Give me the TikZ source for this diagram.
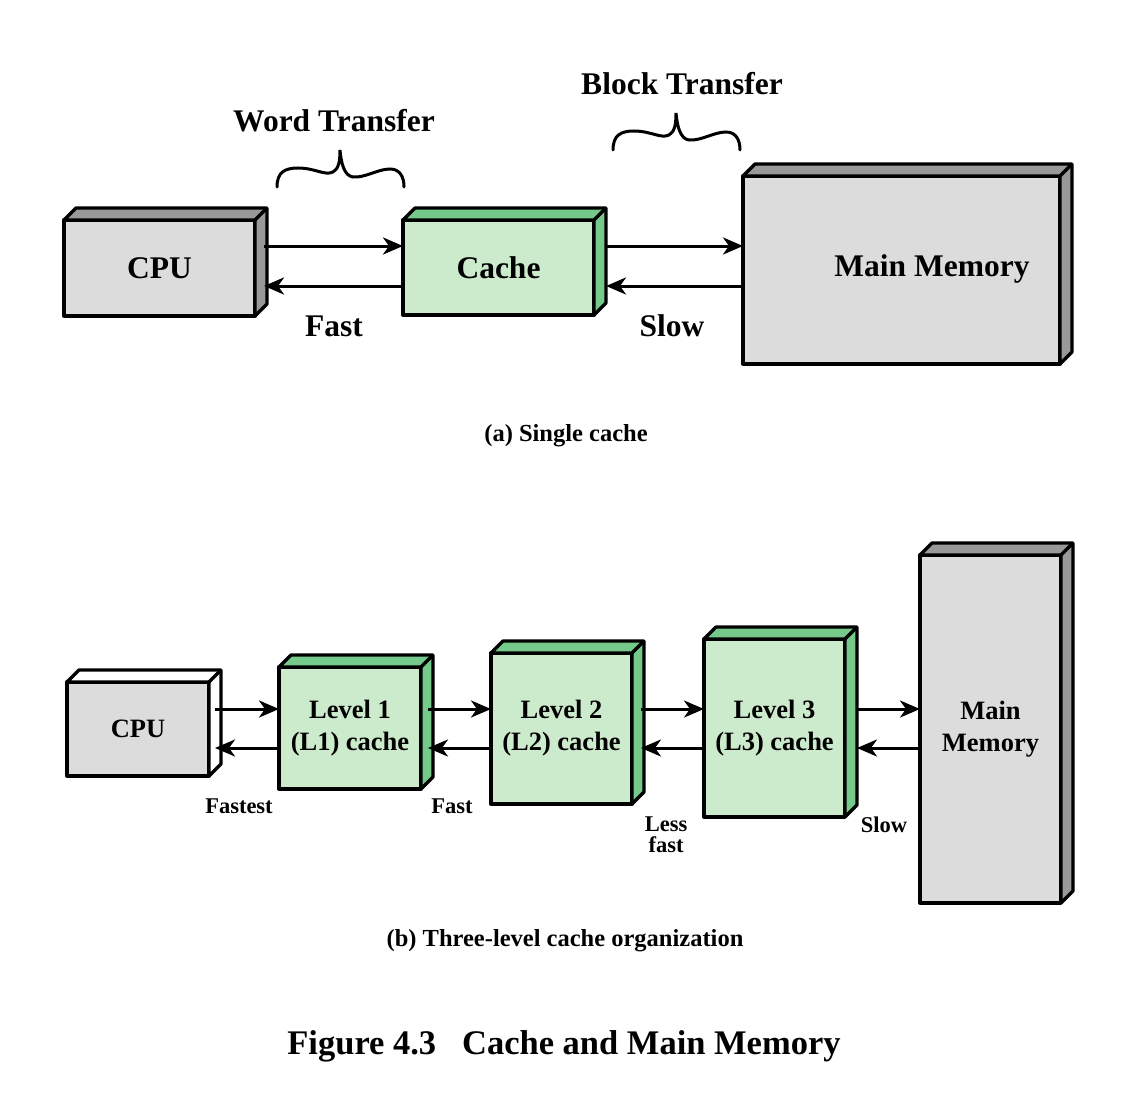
\documentclass[tikz,border=0pt]{standalone}
\usepackage{fontspec}
\setmainfont{Liberation Serif}
\usetikzlibrary{arrows.meta,calc}

\definecolor{greyfront}{RGB}{220,220,220}
\definecolor{greyside}{RGB}{153,153,153}
\definecolor{greenfront}{RGB}{204,235,204}
\definecolor{greenside}{RGB}{117,201,138}

\tikzset{
  boxline/.style={line width=3.3pt, line join=round},
  greybox/.style={boxline, draw, fill=greyfront, inner sep=0pt, outer sep=0pt},
  greenbox/.style={boxline, draw, fill=greenfront, inner sep=0pt, outer sep=0pt},
  bigtext/.style={font=\fontsize{31.5}{34}\selectfont\bfseries},
  midtext/.style={font=\fontsize{26.5}{32}\selectfont\bfseries, align=center},
  smalltext/.style={font=\fontsize{22.5}{21}\selectfont\bfseries, align=center},
  captext/.style={font=\fontsize{24.5}{28}\selectfont\bfseries},
  arr/.style={line width=3pt, -{Stealth[length=20pt,width=17pt,inset=6pt]}},
  curlyline/.style={line width=3pt, line cap=round}
}

% top and side faces of a box
\newcommand{\depthfaces}[2]{%
  \draw[boxline, fill=#2] (#1.north west) -- ([xshift=\Depth pt,yshift=\Depth pt]#1.north west)
    -- ([xshift=\Depth pt,yshift=\Depth pt]#1.north east)
    -- ([xshift=\Depth pt,yshift=\Depth pt]#1.south east)
    -- (#1.south east) -- (#1.north east) -- cycle;
  \draw[boxline] (#1.north east) -- ([xshift=\Depth pt,yshift=\Depth pt]#1.north east);
}

\begin{document}
\begin{tikzpicture}[x=1pt,y=-1pt]
  \useasboundingbox (0,0) rectangle (1134,1113);

  \def\Depth{12}

  % (a) Single cache
  \node[greybox, bigtext, minimum width=191pt, minimum height=96pt] (cpu) at (159.5,268) {CPU};
  \depthfaces{cpu}{greyside}
  \node[greenbox, bigtext, minimum width=191pt, minimum height=95pt] (cache) at (498.5,267.5) {Cache};
  \depthfaces{cache}{greenside}
  \node[greybox, minimum width=317pt, minimum height=188pt] (mem) at (901.5,270) {};
  \depthfaces{mem}{greyside}
  \node[bigtext] (memtext) at (932,269) {Main Memory};

  \coordinate (topup) at (0,246);
  \coordinate (topdown) at (0,286);

  \draw[arr] ($(cpu.east |- topup)+(9,0)$) -- (cache.west |- topup);
  \draw[arr] (cache.west |- topdown) -- ($(cpu.east |- topdown)+(9,0)$);
  \draw[arr] ($(cache.east |- topup)+(12,0)$) -- (mem.west |- topup);
  \draw[arr] (mem.west |- topdown) -- ($(cache.east |- topdown)+(12,0)$);

  \node[bigtext] (fast) at (334,326) {Fast};
  \node[bigtext] (slow) at (672,326) {Slow};
  \node[bigtext] (word) at (334,121) {Word Transfer};
  \node[bigtext] (block) at (682,84) {Block Transfer};

  % curly braces
  \foreach \bx/\by in {0/0, 336/-37}{
    \draw[curlyline, shift={(\bx,\by)}]
      (277,187) .. controls (277,172) and (285,168) .. (298,168)
      .. controls (315,168) and (325,176) .. (333,172)
      .. controls (339,169) and (340,160) .. (340,150)
      .. controls (341,162) and (344,176) .. (353,177)
      .. controls (365,178) and (378,169) .. (390,169)
      .. controls (400,169) and (404,177) .. (404,187);
  }

  \node[captext] (capa) at (566,436) {(a) Single cache};

  % (b) Three-level cache organization
  \node[greybox, midtext, minimum width=142pt, minimum height=94pt] (cpub) at (138,729) {CPU};
  \depthfaces{cpub}{white}
  \node[greenbox, midtext, minimum width=142pt, minimum height=122pt] (lone) at (350,728) {Level 1\\(L1) cache};
  \depthfaces{lone}{greenside}
  \node[greenbox, midtext, minimum width=141pt, minimum height=151pt] (ltwo) at (561.5,728.5) {Level 2\\(L2) cache};
  \depthfaces{ltwo}{greenside}
  \node[greenbox, midtext, minimum width=141pt, minimum height=178pt] (lthree) at (774.5,728) {Level 3\\(L3) cache};
  \depthfaces{lthree}{greenside}
  \node[greybox, midtext, minimum width=141pt, minimum height=348pt] (memb) at (990.5,729) {Main\\Memory};
  \depthfaces{memb}{greyside}

  \coordinate (botup) at (0,709);
  \coordinate (botdown) at (0,748);

  \draw[arr] ($(cpub.east |- botup)+(6,0)$) -- (lone.west |- botup);
  \draw[arr] (lone.west |- botdown) -- ($(cpub.east |- botdown)+(6,0)$);
  \draw[arr] ($(lone.east |- botup)+(7,0)$) -- (ltwo.west |- botup);
  \draw[arr] (ltwo.west |- botdown) -- ($(lone.east |- botdown)+(7,0)$);
  \draw[arr] ($(ltwo.east |- botup)+(9,0)$) -- (lthree.west |- botup);
  \draw[arr] (lthree.west |- botdown) -- ($(ltwo.east |- botdown)+(9,0)$);
  \draw[arr] ($(lthree.east |- botup)+(12,0)$) -- (memb.west |- botup);
  \draw[arr] (memb.west |- botdown) -- ($(lthree.east |- botdown)+(12,0)$);

  \node[smalltext] (fastest) at (239,806) {Fastest};
  \node[smalltext] (fastb) at (452,806) {Fast};
  \node[smalltext] (lessfast) at (666,835) {Less\\fast};
  \node[smalltext] (slowb) at (884,825) {Slow};

  \node[captext] (capb) at (565,941) {(b) Three-level cache organization};

  \node[font=\fontsize{34.5}{40}\selectfont\bfseries] (title) at (564,1046) {Figure 4.3\hspace{0.5em} Cache and Main Memory};
\end{tikzpicture}
\end{document}
